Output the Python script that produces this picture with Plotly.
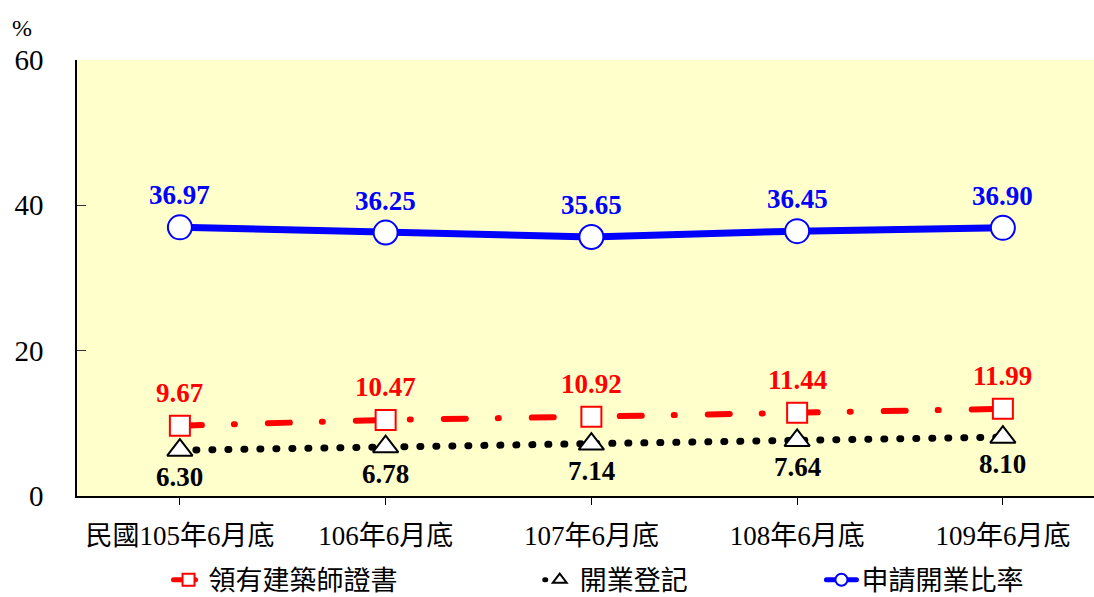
import plotly.graph_objects as go

categories = ["民國105年6月底", "106年6月底", "107年6月底", "108年6月底", "109年6月底"]
licensed = [9.67, 10.47, 10.92, 11.44, 11.99]      # 領有建築師證書
registered = [6.30, 6.78, 7.14, 7.64, 8.10]        # 開業登記
ratio = [36.97, 36.25, 35.65, 36.45, 36.90]        # 申請開業比率
names = ["領有建築師證書", "開業登記", "申請開業比率"]
y_ticks = [0, 20, 40, 60]

FONT = "Liberation Serif, Times New Roman, Noto Sans CJK TC, serif"
x = list(range(len(categories)))

fig = go.Figure()
fig.add_trace(go.Scatter(
    x=x, y=licensed, name=names[0], mode="lines+markers", legend="legend", showlegend=True,
    line=dict(color="#FF0000", width=6, dash="22px,32px,1px,33px"),
    marker=dict(symbol="square", size=20, color="white", line=dict(color="#FF0000", width=2)),
))
fig.add_trace(go.Scatter(
    x=x, y=registered, name=names[1], mode="lines+markers", legend="legend2", showlegend=True,
    line=dict(color="black", width=7, dash="1px,15px"),
    marker=dict(symbol="triangle-up", size=22, color="white", line=dict(color="black", width=2)),
))
fig.add_trace(go.Scatter(
    x=x, y=ratio, name=names[2], mode="lines+markers", legend="legend3", showlegend=True,
    line=dict(color="#0000FF", width=7),
    marker=dict(symbol="circle", size=24, color="white", line=dict(color="#0000FF", width=2)),
))

anns = []
for xi, v in zip(x, ratio):
    anns.append(dict(x=xi, y=v, text=f"<b>{v:.2f}</b>", showarrow=False, yshift=32,
                     font=dict(family=FONT, size=27, color="#0000FF")))
for xi, v in zip(x, licensed):
    anns.append(dict(x=xi, y=v, text=f"<b>{v:.2f}</b>", showarrow=False, yshift=33,
                     font=dict(family=FONT, size=27, color="#FF0000")))
for xi, v in zip(x, registered):
    anns.append(dict(x=xi, y=v, text=f"<b>{v:.2f}</b>", showarrow=False, yshift=-27,
                     font=dict(family=FONT, size=27, color="black")))
anns.append(dict(xref="paper", yref="paper", x=-0.054, y=1.073, text="%", showarrow=False,
                 xanchor="center", yanchor="middle", font=dict(family=FONT, size=24, color="black")))

plot_w = 1094 - 77
leg_common = dict(orientation="h", y=-0.193, xanchor="left", yanchor="middle",
                  font=dict(family=FONT, size=27), bgcolor="rgba(0,0,0,0)", itemsizing="constant")
fig.update_layout(
    width=1094, height=597,
    margin=dict(l=77, r=0, t=60, b=101, pad=0, autoexpand=False),
    paper_bgcolor="white", plot_bgcolor="#FFFFCC",
    font=dict(family=FONT, size=26, color="black"),
    annotations=anns,
    showlegend=True,
    legend=dict(x=0.09, **leg_common),
    legend2=dict(x=0.455, **leg_common),
    legend3=dict(x=0.732, **leg_common),
)
fig.update_xaxes(
    range=[-0.5, -0.5 + plot_w / 205.75], tickmode="array", tickvals=x, ticktext=categories,
    ticks="outside", ticklen=7, tickcolor="black", showline=True, linecolor="black", linewidth=1.5,
    showgrid=False, zeroline=False, tickfont=dict(family=FONT, size=27), automargin=False,
    ticklabelstandoff=8,
)
fig.update_yaxes(
    range=[0, 60], tickvals=y_ticks, ticks="inside", ticklen=9, tickcolor="#333",
    showline=True, linecolor="black", linewidth=1.5, showgrid=False, zeroline=False,
    tickfont=dict(family=FONT, size=29), ticklabelstandoff=26, automargin=False,
)

post = """
document.body.style.margin='0';
document.querySelectorAll('path.js-line').forEach(function(p){p.style.strokeLinecap='round';});
"""
fig.write_html("out.html", post_script=post, config={"displayModeBar": False})
